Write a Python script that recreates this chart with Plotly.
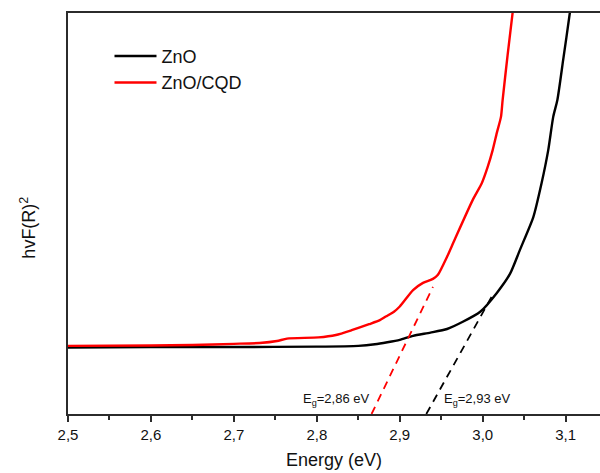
import plotly.graph_objects as go

# ZnO curve (energy in eV, intensity in arbitrary units)
zno_x = [2.500, 2.600, 2.700, 2.800, 2.850, 2.870, 2.885, 2.900, 2.916, 2.937, 2.957,
         2.976, 2.997, 3.017, 3.033, 3.045, 3.061, 3.071, 3.079, 3.085, 3.090,
         3.097, 3.105, 3.1065]
zno_y = [16.6, 16.7, 16.7, 16.8, 17.0, 17.4, 17.9, 18.5, 19.5, 20.3, 21.2,
         23.0, 25.5, 30.2, 35.0, 41.0, 49.1, 57.6, 65.8, 74.1, 78.3,
         88.3, 100.0, 103.0]

# ZnO/CQD curve
cqd_x = [2.500, 2.600, 2.650, 2.700, 2.731, 2.752, 2.764, 2.802, 2.823, 2.842,
         2.863, 2.876, 2.883, 2.893, 2.900, 2.916, 2.928, 2.940, 2.946, 2.957,
         2.966, 2.988, 2.999, 3.006, 3.012, 3.017, 3.022, 3.024, 3.030, 3.036,
         3.038]
cqd_y = [17.0, 17.1, 17.2, 17.5, 17.7, 18.2, 18.8, 19.1, 19.7, 20.9,
         22.4, 23.4, 24.3, 25.5, 26.8, 30.9, 32.7, 33.7, 34.7, 39.2,
         43.4, 53.4, 57.6, 61.6, 65.8, 70.1, 74.1, 78.3, 89.5, 100.0,
         104.0]

# Tangent (extrapolation) lines
zno_fit_x = [2.932, 3.012]
zno_fit_y = [0.0, 29.7]
cqd_fit_x = [2.866, 2.940]
cqd_fit_y = [0.0, 31.7]

# Labels
eg_labels = ["E<sub>g</sub>=2,86 eV", "E<sub>g</sub>=2,93 eV"]
eg_label_x = [2.865, 2.951]
tick_vals = [2.5, 2.6, 2.7, 2.8, 2.9, 3.0, 3.1]

BLACK = "#000000"
RED = "#ff0000"
AX = "#2b2b2b"
FONT = "Liberation Sans, Arial, sans-serif"

fig = go.Figure()
fig.add_trace(go.Scatter(x=zno_x, y=zno_y, mode="lines", name="ZnO",
                         line=dict(color=BLACK, width=2.4, shape="spline", smoothing=0.6)))
fig.add_trace(go.Scatter(x=cqd_x, y=cqd_y, mode="lines", name="ZnO/CQD",
                         line=dict(color=RED, width=2.4, shape="spline", smoothing=0.6)))
fig.add_trace(go.Scatter(x=zno_fit_x, y=zno_fit_y, mode="lines", showlegend=False,
                         line=dict(color=BLACK, width=1.8, dash="8px,6px")))
fig.add_trace(go.Scatter(x=cqd_fit_x, y=cqd_fit_y, mode="lines", showlegend=False,
                         line=dict(color=RED, width=1.8, dash="8px,6px")))

fig.add_annotation(x=eg_label_x[0], y=3.7, text=eg_labels[0], showarrow=False,
                   xanchor="right", yanchor="middle",
                   font=dict(size=13, color="#111111", family=FONT))
fig.add_annotation(x=eg_label_x[1], y=3.7, text=eg_labels[1], showarrow=False,
                   xanchor="left", yanchor="middle",
                   font=dict(size=13, color="#111111", family=FONT))

fig.add_annotation(xref="paper", yref="paper", x=-0.075, y=0.465,
                   text="hvF(R)<sup>2</sup>", showarrow=False, textangle=-90,
                   xanchor="center", yanchor="middle",
                   font=dict(size=18, color="#111111", family=FONT))

fig.update_xaxes(range=[2.5, 3.1414], tickvals=tick_vals, tickformat=".1f",
                 ticks="outside", ticklen=6, tickwidth=1.5, tickcolor=AX,
                 minor=dict(dtick=0.05, ticks="outside", ticklen=4, tickwidth=1.5,
                            tickcolor=AX, showgrid=False),
                 showline=True, linecolor=AX, linewidth=1.6, mirror=True,
                 showgrid=False, zeroline=False,
                 tickfont=dict(size=15, color="#111111", family=FONT),
                 title=dict(text="Energy (eV)", standoff=12,
                            font=dict(size=18, color="#111111", family=FONT)))
fig.update_yaxes(range=[0, 100], showticklabels=False, ticks="",
                 showline=True, linecolor=AX, linewidth=1.6, mirror=False,
                 showgrid=False, zeroline=False)

fig.update_layout(
    width=600, height=473,
    margin=dict(l=68, r=0, t=13, b=59),
    paper_bgcolor="white", plot_bgcolor="white",
    separators=", ",
    font=dict(family=FONT, color="#111111"),
    legend=dict(x=0.078, y=0.938, xanchor="left", yanchor="top",
                bgcolor="rgba(0,0,0,0)", font=dict(size=18, family=FONT),
                tracegroupgap=0, itemwidth=42),
    showlegend=True,
)

fig.write_html("out.html")
